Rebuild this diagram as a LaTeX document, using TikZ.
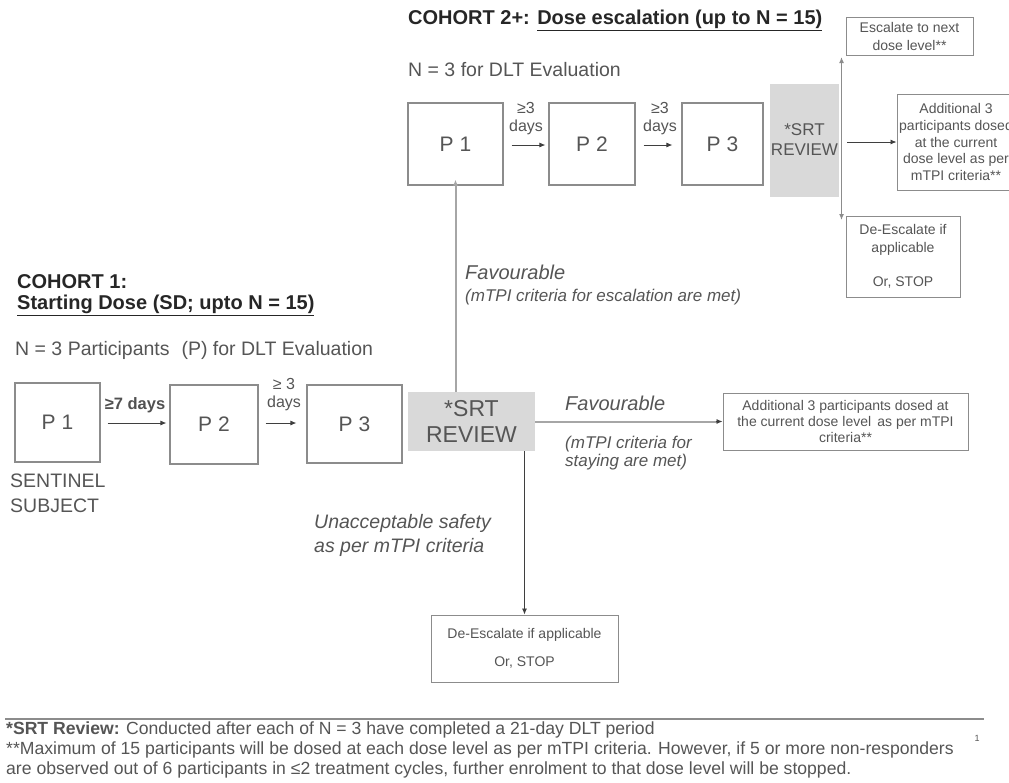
\documentclass[tikz,border=0pt]{standalone}
\usepackage{fontspec}
\setmainfont{Liberation Sans}
\usetikzlibrary{arrows.meta}
\definecolor{boxgray}{HTML}{8C8C8C}
\definecolor{txtgray}{HTML}{555555}
\definecolor{srtgray}{HTML}{D9D9D9}
\definecolor{arrgray}{HTML}{3F3F3F}
\definecolor{linegray}{HTML}{A6A6A6}
\definecolor{titlec}{HTML}{262626}
\newcommand{\fs}[2]{\fontsize{#1}{#2}\selectfont}
\tikzset{
  box/.style={draw=boxgray, line width=1.2pt, fill=white, inner sep=0pt, align=center, text=txtgray},
  pbox/.style={box, font=\fs{21}{24}},
  srtbox/.style={fill=srtgray, draw=none, inner sep=0pt, align=center, text=txtgray},
  smallbox/.style={box, line width=1pt, font=\fs{14}{18}},
  arr/.style={draw=arrgray, line width=0.8pt, -{Latex[length=6pt,width=5pt]}},
  grayarr/.style={draw=linegray, line width=2pt, -{Latex[length=6pt,width=5pt]}, color=linegray},
  lbl/.style={text=txtgray, inner sep=0pt, align=left, anchor=west},
  ttl/.style={text=titlec, inner sep=0pt, align=left, anchor=west, font=\bfseries\fs{20}{23}},
}
\begin{document}
\begin{tikzpicture}[x=1pt,y=-1pt]
\useasboundingbox (0,0) rectangle (1009,782);
\clip (0,0) rectangle (1009,782);

% ---------- Cohort 2+ ----------
\node[ttl] (ttl2) at (408,20) {COHORT 2+: \underline{Dose escalation (up to N = 15)}};
\node[lbl, font=\fs{19.5}{22}] (n2) at (408,70) {N = 3 for DLT Evaluation};

\node[pbox, minimum width=95pt, minimum height=82pt] (t1) at (455.5,144) {P 1};
\node[pbox, minimum width=86pt, minimum height=82pt] (t2) at (592,144) {P 2};
\node[pbox, minimum width=81pt, minimum height=82pt] (t3) at (722.5,144) {P 3};
\node[srtbox, minimum width=69pt, minimum height=113pt, font=\fs{17}{20}] (tsrt) at (804.5,140) {*SRT\\REVIEW};

\draw[arr, shorten <=8pt, shorten >=3pt] (t1.east |- 0,145) -- (t2.west |- 0,145);
\node[text=txtgray, inner sep=0pt, align=center, font=\fs{16}{18}] (d1) at (526,119) {≥3\\days};
\draw[arr, shorten <=8pt, shorten >=9pt] (t2.east |- 0,145) -- (t3.west |- 0,145);
\node[text=txtgray, inner sep=0pt, align=center, font=\fs{16}{18}] (d2) at (660,119) {≥3\\days};

\node[smallbox, minimum width=127pt, minimum height=38pt] (esc) at (909.5,36) {Escalate to next\\dose level**};
\node[smallbox, minimum width=118pt, minimum height=96pt, font=\fs{14}{16.7}] (add2) at (956,142) {Additional 3\\participants dosed\\at the current\\dose level as per\\mTPI criteria**};
\node[smallbox, minimum width=114pt, minimum height=81pt] (des2) at (903,256.5) {De-Escalate if\\applicable\\[16pt]Or, STOP};

\coordinate (vtop) at (841.5,57);
\coordinate (vbot) at (841.5,220);
\draw[draw=boxgray, line width=1.5pt, {Latex[length=6pt,width=5pt]}-{Latex[length=6pt,width=5pt]}, color=boxgray] (vtop) -- (vbot);
\coordinate (hstart) at (847,142);
\draw[arr] (hstart) -- (add2.west);

% ---------- Cohort 1 ----------
\node[ttl] (ttl1) at (17,282) {COHORT 1:};
\node[ttl] (ttl1b) at (17,305) {\underline{Starting Dose (SD; upto N = 15)}};
\node[lbl, font=\fs{19.5}{22}] (n1) at (15,350) {N = 3 Participants\,\, (P) for DLT Evaluation};

\node[pbox, minimum width=85pt, minimum height=79pt] (c1) at (57.5,422.5) {P 1};
\node[pbox, minimum width=88pt, minimum height=79pt] (c2) at (214,424.5) {P 2};
\node[pbox, minimum width=95pt, minimum height=78pt] (c3) at (354.5,424) {P 3};
\node[srtbox, minimum width=127pt, minimum height=59pt, font=\fs{23}{26}] (csrt) at (471.5,421.5) {*SRT\\REVIEW};

\draw[arr, shorten <=7pt, shorten >=3pt] (c1.east |- 0,423) -- (c2.west |- 0,423);
\node[text=titlec!80!white, inner sep=0pt, font=\bfseries\fs{16.5}{18}] (d3) at (135,405) {≥7 days};
\draw[arr, shorten <=7pt, shorten >=10pt] (c2.east |- 0,423) -- (c3.west |- 0,423);
\node[text=txtgray, inner sep=0pt, align=center, font=\fs{16}{18}] (d4) at (284,395) {≥ 3\\days};

\node[lbl, font=\fs{19.5}{25}] (sent) at (10,493) {SENTINEL\\SUBJECT};

\node[smallbox, minimum width=245pt, minimum height=57pt, font=\fs{14}{16}] (cadd) at (845.5,421.5) {Additional 3 participants dosed at\\the current dose level\, as per mTPI\\criteria**};
\node[smallbox, minimum width=187pt, minimum height=67pt] (des1) at (524.5,648.5) {De-Escalate if applicable\\[10pt]Or, STOP};

\draw[grayarr] (t1.south |- csrt.north) -- ([yshift=6pt]t1.south);
\draw[draw=linegray, line width=2pt] (csrt.east) -- ([xshift=-5pt]cadd.west);
\draw[arr] ([xshift=-7pt]cadd.west) -- (cadd.west);
\draw[arr] (des1.north |- csrt.south) -- (des1.north);

% labels
\node[lbl, font=\itshape\fs{20}{22}] (fav2) at (465,272) {Favourable};
\node[lbl, font=\itshape\fs{17}{19}] (fav2b) at (465,297) {(mTPI criteria for escalation are met)};
\node[lbl, font=\itshape\fs{20}{22}] (fav1) at (565,403) {Favourable};
\node[lbl, font=\itshape\fs{17}{17.5}] (fav1b) at (565,453) {(mTPI criteria for\\staying are met)};
\node[lbl, font=\itshape\fs{19.5}{24}] (unacc) at (314,535) {Unacceptable safety\\as per mTPI criteria};

% ---------- footer ----------
\coordinate (fl) at (5,719);
\coordinate (fr) at (984,719);
\draw[draw=boxgray, line width=2.5pt] (fl) -- (fr);
\node[lbl, font=\fs{17.6}{20}] (foot) at (6,750) {\textbf{*SRT Review:} Conducted after each of N = 3 have completed a 21-day DLT period\\**Maximum of 15 participants will be dosed at each dose level as per mTPI criteria. However, if 5 or more non-responders\\are observed out of 6 participants in ≤2 treatment cycles, further enrolment to that dose level will be stopped.};
\node[text=txtgray, inner sep=0pt, font=\fs{9}{10}] (pg) at (977,738) {1};
\end{tikzpicture}
\end{document}
